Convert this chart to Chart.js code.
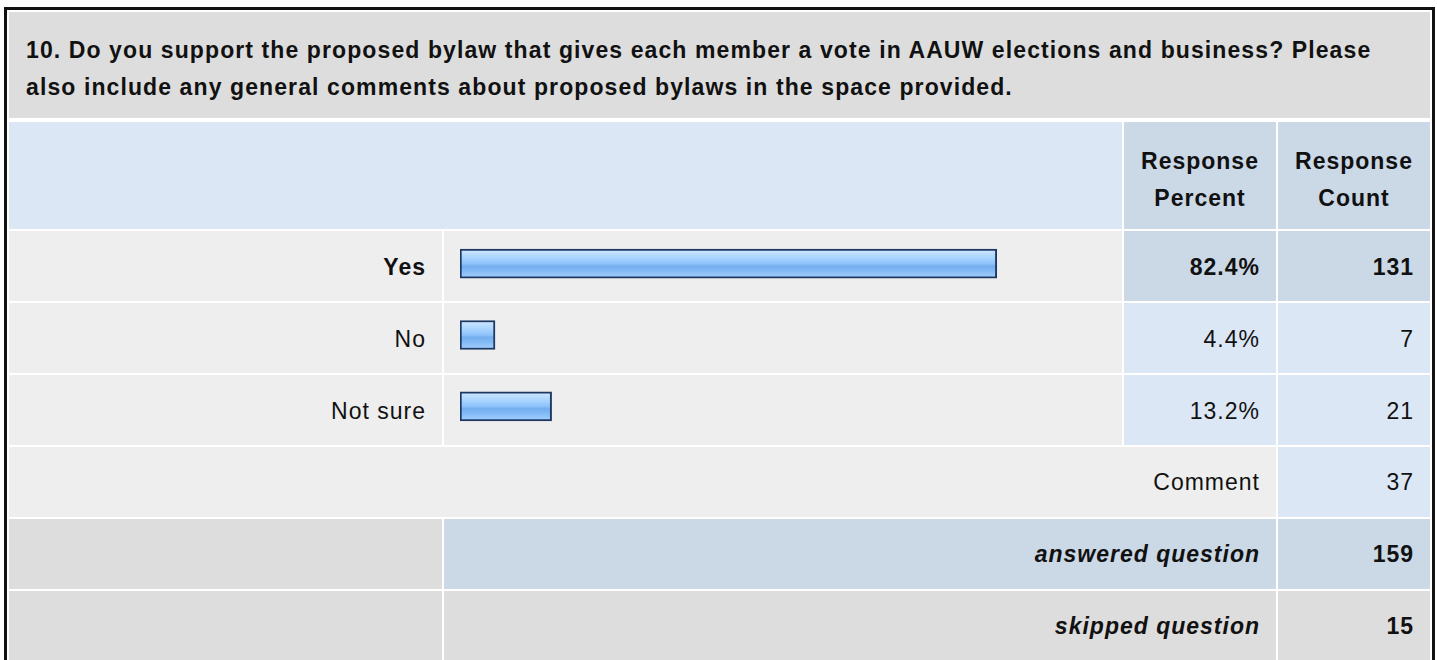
<!DOCTYPE html>
<html>
<head>
<meta charset="utf-8">
<script src="https://cdn.jsdelivr.net/npm/chart.js@4.4.1/dist/chart.umd.min.js"></script>
<style>
  html, body { margin: 0; padding: 0; background: #fff; overflow: hidden; }
  body { width: 1437px; height: 660px; font-family: "Liberation Sans", Arial, sans-serif; color: #111; }
  #frame {
    position: absolute; left: 4px; top: 7px; width: 1425px;
    border: 3px solid #111; border-bottom: none; background: #fff;
  }
  #title {
    margin: 2px 2px 2px 2px; height: 106px; box-sizing: border-box;
    padding: 20px 20px 0 17px; background: #dddddd;
    font-weight: bold; font-size: 23px; line-height: 36.5px; letter-spacing: 1.1px;
  }
  #grid { width: 1425px; border-collapse: separate; border-spacing: 2px; table-layout: fixed; }
  #grid td { box-sizing: border-box; padding: 0 16px 0 0; font-size: 23px; line-height: 37px;
             letter-spacing: 1px; text-align: right; vertical-align: middle; height: 70px; }
  #grid tr.hdr td { height: 107px; text-align: center; font-weight: bold; padding: 8px 0 0 0; }
  #grid tr.data td { padding-top: 3px; }
  .lb { background: #dce7f5; }
  .db { background: #cbd8e6; }
  .lg { background: #eeeeee; }
  .gr { background: #dddddd; }
  .b  { font-weight: bold; }
  .bi { font-weight: bold; font-style: italic; }
  #bars { position: absolute; left: 437px; top: 218px; width: 678px; height: 214px; }
</style>
</head>
<body>
<div id="frame">
  <div id="title"></div>
  <table id="grid">
    <colgroup>
      <col style="width:433px"><col style="width:678px"><col style="width:152px"><col style="width:152px">
    </colgroup>
    <tbody id="rows">
      <tr class="hdr">
        <td colspan="2" class="lb"></td>
        <td class="db">Response<br>Percent</td>
        <td class="db">Response<br>Count</td>
      </tr>
    </tbody>
  </table>
  <div id="bars"><canvas id="barChart"></canvas></div>
</div>

<script>
'use strict';

// 설문 데이터
const QUESTION = '10. Do you support the proposed bylaw that gives each member a vote in AAUW elections and business? Please also include any general comments about proposed bylaws in the space provided.';
const CHOICES  = ['Yes', 'No', 'Not sure'];
const PERCENTS = [82.4, 4.4, 13.2];
const COUNTS   = [131, 7, 21];
const COMMENT_LABEL = 'Comment';
const COMMENT_COUNT = 37;
const ANSWERED = 159;
const SKIPPED  = 15;

// 막대 시작 여백 (퍼센트 단위)
const BAR_BASE = -1.04;

document.getElementById('title').textContent = QUESTION;

// 표 행 구성
const tbody = document.getElementById('rows');
const topIdx = PERCENTS.indexOf(Math.max(...PERCENTS));

function cell(tr, text, cls, colspan) {
  const td = document.createElement('td');
  td.textContent = text;
  if (cls) td.className = cls;
  if (colspan) td.colSpan = colspan;
  tr.appendChild(td);
  return td;
}

CHOICES.forEach((name, i) => {
  const tr = document.createElement('tr');
  tr.className = 'data';
  const top = i === topIdx;
  cell(tr, name, 'lg' + (top ? ' b' : ''));
  cell(tr, '', 'lg');
  cell(tr, PERCENTS[i].toFixed(1) + '%', top ? 'db b' : 'lb');
  cell(tr, String(COUNTS[i]), top ? 'db b' : 'lb');
  tbody.appendChild(tr);
});

let tr = document.createElement('tr');
cell(tr, COMMENT_LABEL, 'lg', 3);
cell(tr, String(COMMENT_COUNT), 'lb');
tbody.appendChild(tr);

tr = document.createElement('tr');
cell(tr, '', 'gr');
cell(tr, 'answered question', 'db bi', 2);
cell(tr, String(ANSWERED), 'db b');
tbody.appendChild(tr);

tr = document.createElement('tr');
cell(tr, '', 'gr');
cell(tr, 'skipped question', 'gr bi', 2);
cell(tr, String(SKIPPED), 'gr b');
tbody.appendChild(tr);

// 막대 그라데이션
function barFill(ctx) {
  const chart = ctx.chart;
  const ys = chart.scales && chart.scales.y;
  if (!ys || ctx.dataIndex === undefined) return '#8cc0f8';
  const c = ys.getPixelForValue(ctx.dataIndex);
  if (!isFinite(c)) return '#8cc0f8';
  const g = chart.ctx.createLinearGradient(0, c - 15, 0, c + 15);
  g.addColorStop(0.00, '#dff0ff');
  g.addColorStop(0.12, '#c2e1ff');
  g.addColorStop(0.35, '#a3d0ff');
  g.addColorStop(0.50, '#8ec2fa');
  g.addColorStop(0.58, '#74aeee');
  g.addColorStop(0.72, '#7fb8f4');
  g.addColorStop(1.00, '#a9d3ff');
  return g;
}

new Chart(document.getElementById('barChart'), {
  type: 'bar',
  data: {
    labels: CHOICES,
    datasets: [{
      data: PERCENTS,
      base: BAR_BASE,
      backgroundColor: barFill,
      borderColor: '#1d3862',
      borderWidth: 2,
      borderSkipped: false,
      barThickness: 29,
    }],
  },
  options: {
    indexAxis: 'y',
    responsive: true,
    maintainAspectRatio: false,
    animation: false,
    layout: { padding: { left: 16, right: 12, top: 0, bottom: 0 } },
    scales: {
      x: { display: false, min: BAR_BASE, max: 100 },
      y: { display: false },
    },
    plugins: {
      legend: { display: false },
      tooltip: { enabled: false },
    },
  },
});
</script>
</body>
</html>
